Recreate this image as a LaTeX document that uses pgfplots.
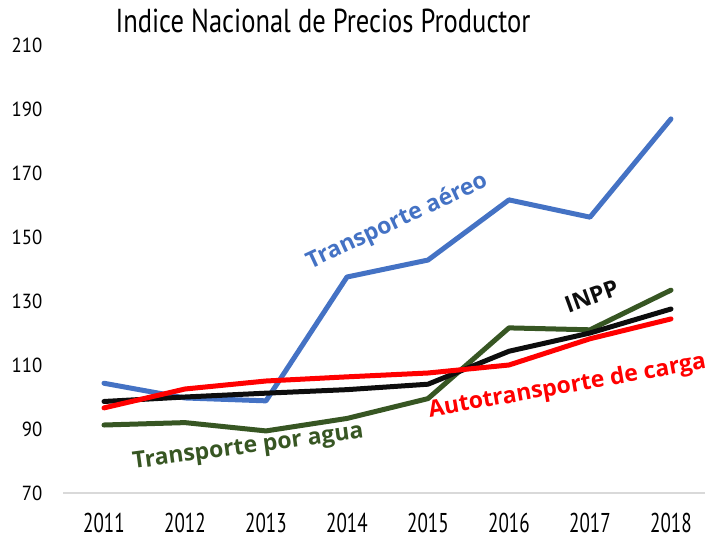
\documentclass[border=0pt]{standalone}
\usepackage{pgfplots}
\pgfplotsset{compat=1.18}
\usepackage{fontspec}
\setmainfont{Open Sans}
\newfontfamily\condfont[FakeStretch=0.80]{PT Sans}
\newfontfamily\xfont[FakeStretch=0.70]{PT Sans}
\newfontfamily\yfont[FakeStretch=0.92]{PT Sans}
\definecolor{cblue}{HTML}{4472C4}
\definecolor{cred}{HTML}{FF0000}
\definecolor{cblack}{HTML}{0D0D0D}
\definecolor{cgreen}{HTML}{375623}
\begin{document}
\begin{tikzpicture}
\begin{axis}[
  at={(0,0)}, anchor=south west,
  scale only axis, width=320.75pt, height=224pt,
  xmin=2010.5, xmax=2018.42, ymin=70, ymax=210,
  xtick={2011,2012,2013,2014,2015,2016,2017,2018},
  xticklabels={2011,2012,2013,2014,2015,2016,2017,2018},
  ytick={70,90,110,130,150,170,190,210},
  yticklabels={70,90,110,130,150,170,190,210},
  axis lines*=left,
  y axis line style={draw=none},
  x axis line style={draw=black!15, line width=0.8pt},
  major tick length=0pt,
  xticklabel style={font=\xfont\fontsize{13.6}{15}\selectfont, yshift=-6.5pt},
  yticklabel style={font=\yfont\fontsize{10.2}{12}\selectfont, xshift=-7pt},
  clip=false,
  every axis plot/.append style={line width=2.5pt, line join=round, line cap=round, no marks},
]
\addplot[cblue] coordinates {(2011,104.3) (2012,99.7) (2013,98.8) (2014,137.5) (2015,142.8) (2016,161.6) (2017,156.2) (2018,186.9)};
\addplot[cgreen] coordinates {(2011,91.25) (2012,92.0) (2013,89.4) (2014,93.3) (2015,99.5) (2016,121.6) (2017,121.0) (2018,133.4)};
\addplot[cblack] coordinates {(2011,98.6) (2012,100.0) (2013,101.2) (2014,102.3) (2015,104.0) (2016,114.3) (2017,120.0) (2018,127.5)};
\addplot[cred] coordinates {(2011,96.6) (2012,102.5) (2013,105.0) (2014,106.3) (2015,107.5) (2016,110.0) (2017,118.2) (2018,124.4)};
\node[font=\bfseries\fontsize{11.5}{13}\selectfont, text=cblue, rotate=25] at (axis cs:2014.62,154.7) {Transporte aéreo};
\node[font=\bfseries\fontsize{11.5}{13}\selectfont, text=cblack, rotate=20] at (axis cs:2017.02,131.6) {INPP};
\node[font=\bfseries\fontsize{11.5}{13}\selectfont, text=cred, rotate=10] at (axis cs:2016.72,103.2) {Autotransporte de carga};
\node[font=\bfseries\fontsize{11.5}{13}\selectfont, text=cgreen, rotate=7.6] at (axis cs:2012.78,84.1) {Transporte por agua};
\end{axis}
\node[anchor=base, font=\condfont\fontsize{16.6}{18}\selectfont] at (129.75pt,230pt) {Indice Nacional de Precios Productor};
\pgfresetboundingbox
\useasboundingbox (-31.75pt,-22pt) rectangle (320.75pt,246.5pt);
\end{tikzpicture}
\end{document}
